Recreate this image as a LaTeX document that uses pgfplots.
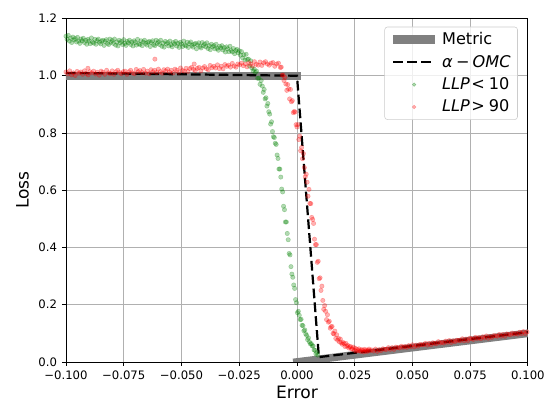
\documentclass[border=0pt]{standalone}
\usepackage{fontspec}
\setmainfont{DejaVu Sans}
\usepackage{pgfplots}
\pgfplotsset{compat=1.18}
\definecolor{mgreen}{HTML}{008000}
\definecolor{mred}{HTML}{FF0000}
\definecolor{mgray}{HTML}{808080}
\definecolor{gridgray}{HTML}{B0B0B0}
\definecolor{legframe}{HTML}{CCCCCC}

\begin{document}
\begin{tikzpicture}
\path[use as bounding box] (-47.5pt,-29.5pt) rectangle (345.6pt,260.6pt);
\begin{axis}[
  at={(0pt,0pt)}, anchor=south west,
  width=332.6pt, height=247.3pt, scale only axis,
  xmin=-0.1, xmax=0.1, ymin=0, ymax=1.2,
  xtick={-0.1,-0.075,-0.05,-0.025,0,0.025,0.05,0.075,0.1},
  xticklabels={−0.100,−0.075,−0.050,−0.025,0.000,0.025,0.050,0.075,0.100},
  ytick={0,0.2,0.4,0.6,0.8,1.0,1.2},
  yticklabels={0.0,0.2,0.4,0.6,0.8,1.0,1.2},
  tick align=outside, tick pos=left, major tick length=2.9pt,
  every tick/.style={black, line width=0.66pt},
  axis line style={black, line width=0.66pt},
  grid=major, major grid style={gridgray, line width=0.66pt},
  tick label style={font=\fontsize{8.4}{10}\selectfont},
  label style={font=\fontsize{12.3}{14}\selectfont},
  xlabel={Error}, ylabel={Loss},
  xlabel style={yshift=2pt},
  legend style={at={(0.978,0.976)}, anchor=north east, draw=legframe,
    rounded corners=2pt, fill=white, fill opacity=0.8, text opacity=1,
    font=\fontsize{11.6}{13.9}\selectfont, inner xsep=3pt, inner ysep=2pt, row sep=2pt},
  legend cell align=left,
]
\addlegendimage{legend image code/.code={\draw[mgray, line width=6.5pt] (0cm,0cm) -- (1.05cm,0cm);}}
\addlegendentry{Metric}
\addlegendimage{legend image code/.code={\draw[black, line width=1.6pt, dash pattern=on 7pt off 3pt] (0cm,0cm) -- (1.05cm,0cm);}}
\addlegendentry{\textit{α}\hspace{0.2em}−\hspace{0.2em}\textit{OMC}}

% LLP < 10
\addplot[only marks, mark=*, mark size=1.6pt, mgreen,
  mark options={fill=mgreen, draw=mgreen, fill opacity=0.3, draw opacity=0.3, line width=0.3pt},
  legend image code/.code={\fill[mgreen, opacity=0.3] (0.525cm,0cm) circle (1.3pt);}]
coordinates {
(-0.1000,1.138) (-0.0995,1.127) (-0.0990,1.141) (-0.0985,1.121) (-0.0980,1.131) (-0.0975,1.116)
(-0.0970,1.135) (-0.0965,1.125) (-0.0960,1.130) (-0.0955,1.118) (-0.0950,1.134) (-0.0945,1.121)
(-0.0940,1.113) (-0.0935,1.128) (-0.0930,1.122) (-0.0925,1.131) (-0.0920,1.116) (-0.0915,1.124)
(-0.0910,1.110) (-0.0905,1.127) (-0.0900,1.121) (-0.0895,1.112) (-0.0890,1.132) (-0.0885,1.117)
(-0.0880,1.114) (-0.0875,1.127) (-0.0870,1.110) (-0.0865,1.123) (-0.0860,1.128) (-0.0855,1.117)
(-0.0850,1.111) (-0.0845,1.121) (-0.0840,1.124) (-0.0835,1.106) (-0.0830,1.120) (-0.0825,1.126)
(-0.0820,1.113) (-0.0815,1.109) (-0.0810,1.128) (-0.0805,1.117) (-0.0800,1.123) (-0.0795,1.113)
(-0.0790,1.128) (-0.0785,1.107) (-0.0780,1.118) (-0.0775,1.104) (-0.0770,1.124) (-0.0765,1.115)
(-0.0760,1.120) (-0.0755,1.109) (-0.0750,1.126) (-0.0745,1.113) (-0.0740,1.106) (-0.0735,1.120)
(-0.0730,1.115) (-0.0725,1.124) (-0.0720,1.109) (-0.0715,1.118) (-0.0710,1.104) (-0.0705,1.122)
(-0.0700,1.116) (-0.0695,1.107) (-0.0690,1.127) (-0.0685,1.112) (-0.0680,1.109) (-0.0675,1.122)
(-0.0670,1.105) (-0.0665,1.118) (-0.0660,1.124) (-0.0655,1.113) (-0.0650,1.107) (-0.0645,1.117)
(-0.0640,1.120) (-0.0635,1.102) (-0.0630,1.116) (-0.0625,1.122) (-0.0620,1.109) (-0.0615,1.105)
(-0.0610,1.124) (-0.0605,1.113) (-0.0600,1.119) (-0.0595,1.109) (-0.0590,1.124) (-0.0585,1.103)
(-0.0580,1.114) (-0.0575,1.100) (-0.0570,1.120) (-0.0565,1.111) (-0.0560,1.116) (-0.0555,1.104)
(-0.0550,1.121) (-0.0545,1.108) (-0.0540,1.101) (-0.0535,1.116) (-0.0530,1.111) (-0.0525,1.120)
(-0.0520,1.104) (-0.0515,1.113) (-0.0510,1.099) (-0.0505,1.117) (-0.0500,1.111) (-0.0495,1.102)
(-0.0490,1.121) (-0.0485,1.107) (-0.0480,1.104) (-0.0475,1.117) (-0.0470,1.099) (-0.0465,1.112)
(-0.0460,1.118) (-0.0455,1.106) (-0.0450,1.100) (-0.0445,1.110) (-0.0440,1.113) (-0.0435,1.094)
(-0.0430,1.108) (-0.0425,1.115) (-0.0420,1.102) (-0.0415,1.097) (-0.0410,1.116) (-0.0405,1.105)
(-0.0400,1.111) (-0.0395,1.101) (-0.0390,1.115) (-0.0385,1.095) (-0.0380,1.105) (-0.0375,1.091)
(-0.0370,1.110) (-0.0365,1.101) (-0.0360,1.105) (-0.0355,1.094) (-0.0350,1.110) (-0.0345,1.096)
(-0.0340,1.089) (-0.0335,1.103) (-0.0330,1.097) (-0.0325,1.105) (-0.0320,1.090) (-0.0315,1.098)
(-0.0310,1.083) (-0.0305,1.101) (-0.0300,1.094) (-0.0295,1.084) (-0.0290,1.103) (-0.0285,1.088)
(-0.0280,1.083) (-0.0275,1.095) (-0.0270,1.077) (-0.0265,1.088) (-0.0260,1.092) (-0.0255,1.080)
(-0.0250,1.087) (-0.0245,1.072) (-0.0240,1.084) (-0.0235,1.062) (-0.0230,1.073) (-0.0225,1.055)
(-0.0220,1.075) (-0.0215,1.057) (-0.0210,1.058) (-0.0205,1.034) (-0.0200,1.052) (-0.0195,1.027)
(-0.0190,1.017) (-0.0185,1.023) (-0.0180,1.012) (-0.0175,1.016) (-0.0170,0.991) (-0.0165,0.992)
(-0.0160,0.970) (-0.0155,0.983)
(-0.0150,0.964) (-0.0146,0.942) (-0.0142,0.952) (-0.0138,0.919) (-0.0134,0.923) (-0.0130,0.894)
(-0.0126,0.903) (-0.0122,0.874) (-0.0118,0.866) (-0.0114,0.831) (-0.0110,0.839) (-0.0106,0.805)
(-0.0102,0.787) (-0.0098,0.784) (-0.0094,0.764) (-0.0090,0.760) (-0.0086,0.723) (-0.0082,0.711)
(-0.0078,0.674) (-0.0074,0.674) (-0.0070,0.646) (-0.0066,0.604) (-0.0062,0.594) (-0.0058,0.544)
(-0.0054,0.532) (-0.0050,0.489) (-0.0046,0.489) (-0.0042,0.449) (-0.0038,0.427) (-0.0034,0.379)
(-0.0030,0.374) (-0.0026,0.333) (-0.0022,0.307) (-0.0018,0.296) (-0.0014,0.269) (-0.0010,0.257)
(-0.0006,0.218) (-0.0002,0.207) (0.0002,0.172) (0.0006,0.177) (0.0010,0.163) (0.0014,0.148)
(0.0018,0.149) (0.0022,0.128) (0.0026,0.127) (0.0030,0.109) (0.0034,0.112) (0.0038,0.098)
(0.0042,0.093) (0.0046,0.078) (0.0050,0.084) (0.0054,0.070) (0.0058,0.063) (0.0062,0.064)
(0.0066,0.056) (0.0070,0.056) (0.0074,0.042) (0.0078,0.041) (0.0082,0.028) (0.0086,0.033)
(0.0090,0.024)
};
\addlegendentry{\textit{LLP}\hspace{0.1em}<\hspace{0.25em}10}

% LLP > 90
\addplot[only marks, mark=*, mark size=1.6pt, mred,
  mark options={fill=mred, draw=mred, fill opacity=0.3, draw opacity=0.3, line width=0.3pt},
  legend image code/.code={\fill[mred, opacity=0.3] (0.525cm,0cm) circle (1.3pt);}]
coordinates {
(-0.1000,1.013) (-0.0992,1.006) (-0.0984,1.017) (-0.0976,1.003) (-0.0968,1.010) (-0.0960,1.001)
(-0.0952,1.015) (-0.0944,1.009) (-0.0936,1.013) (-0.0928,1.005) (-0.0920,1.017) (-0.0912,1.008)
(-0.0904,1.003) (-0.0896,1.014) (-0.0888,1.010) (-0.0880,1.016) (-0.0872,1.006) (-0.0864,1.012)
(-0.0856,1.002) (-0.0848,1.016) (-0.0840,1.012) (-0.0832,1.005) (-0.0824,1.019) (-0.0816,1.010)
(-0.0808,1.007) (-0.0800,1.017) (-0.0792,1.005) (-0.0784,1.014) (-0.0776,1.019) (-0.0768,1.011)
(-0.0760,1.007) (-0.0752,1.014) (-0.0744,1.016) (-0.0736,1.005) (-0.0728,1.014) (-0.0720,1.019)
(-0.0712,1.010) (-0.0704,1.007) (-0.0696,1.022) (-0.0688,1.014) (-0.0680,1.018) (-0.0672,1.011)
(-0.0664,1.022) (-0.0656,1.009) (-0.0648,1.016) (-0.0640,1.007) (-0.0632,1.021) (-0.0624,1.014)
(-0.0616,1.019) (-0.0608,1.011) (-0.0600,1.023) (-0.0592,1.014) (-0.0584,1.009) (-0.0576,1.021)
(-0.0568,1.017) (-0.0560,1.023) (-0.0552,1.013) (-0.0544,1.019) (-0.0536,1.010) (-0.0528,1.023)
(-0.0520,1.019) (-0.0512,1.012) (-0.0504,1.027) (-0.0496,1.018) (-0.0488,1.016) (-0.0480,1.026)
(-0.0472,1.015) (-0.0464,1.025) (-0.0456,1.029) (-0.0448,1.022) (-0.0440,1.018) (-0.0432,1.026)
(-0.0424,1.029) (-0.0416,1.017) (-0.0408,1.027) (-0.0400,1.032) (-0.0392,1.024) (-0.0384,1.021)
(-0.0376,1.036) (-0.0368,1.028) (-0.0360,1.033) (-0.0352,1.027) (-0.0344,1.038) (-0.0336,1.025)
(-0.0328,1.033) (-0.0320,1.024) (-0.0312,1.039) (-0.0304,1.033) (-0.0296,1.037) (-0.0288,1.030)
(-0.0280,1.043) (-0.0272,1.034) (-0.0264,1.030) (-0.0256,1.041) (-0.0248,1.038) (-0.0240,1.044)
(-0.0232,1.035) (-0.0224,1.041) (-0.0216,1.031) (-0.0208,1.045) (-0.0200,1.041) (-0.0192,1.034)
(-0.0184,1.049) (-0.0176,1.040) (-0.0168,1.037) (-0.0160,1.048) (-0.0152,1.036) (-0.0144,1.045)
(-0.0136,1.049) (-0.0128,1.041) (-0.0120,1.037) (-0.0112,1.044) (-0.0104,1.046) (-0.0096,1.033)
(-0.0088,1.041) (-0.0080,1.044) (-0.0072,1.029)
(-0.0615,1.058) (-0.0905,1.026) (-0.0445,1.041)
(-0.0068,1.030) (-0.0064,1.002) (-0.0060,1.002) (-0.0056,0.983) (-0.0052,0.994) (-0.0048,0.971)
(-0.0044,0.949) (-0.0040,0.969) (-0.0036,0.954) (-0.0032,0.919) (-0.0028,0.952) (-0.0024,0.909)
(-0.0020,0.913) (-0.0016,0.871) (-0.0012,0.875) (-0.0008,0.873) (-0.0004,0.829) (0.0000,0.821)
(0.0004,0.829) (0.0008,0.777) (0.0012,0.789) (0.0016,0.738) (0.0020,0.749) (0.0024,0.710)
(0.0028,0.728) (0.0032,0.679) (0.0036,0.647) (0.0040,0.656) (0.0044,0.628) (0.0048,0.579)
(0.0052,0.603) (0.0056,0.554) (0.0060,0.553) (0.0064,0.505) (0.0068,0.498) (0.0072,0.484)
(0.0076,0.429) (0.0080,0.410) (0.0084,0.410) (0.0088,0.348) (0.0092,0.352) (0.0096,0.291)
(0.0100,0.294) (0.0104,0.250) (0.0108,0.265) (0.0112,0.215) (0.0116,0.184) (0.0120,0.197)
(0.0124,0.177) (0.0128,0.148) (0.0132,0.165) (0.0136,0.139) (0.0140,0.142) (0.0144,0.118)
(0.0148,0.123) (0.0152,0.124) (0.0156,0.100) (0.0160,0.098) (0.0164,0.108) (0.0168,0.082)
(0.0172,0.095) (0.0176,0.076) (0.0180,0.082) (0.0184,0.070) (0.0188,0.080) (0.0192,0.067)
(0.0196,0.062) (0.0200,0.068) (0.0204,0.064) (0.0208,0.054) (0.0212,0.065) (0.0216,0.055)
(0.0220,0.058) (0.0224,0.049) (0.0228,0.053) (0.0232,0.054) (0.0236,0.045) (0.0240,0.046)
(0.0244,0.052) (0.0248,0.041) (0.0252,0.048) (0.0256,0.038) (0.0260,0.044) (0.0264,0.039)
(0.0268,0.046) (0.0272,0.040) (0.0276,0.037) (0.0280,0.043) (0.0284,0.041) (0.0288,0.035)
(0.0292,0.044) (0.0296,0.038) (0.0300,0.042) (0.0304,0.037) (0.0308,0.041) (0.0312,0.045)
(0.0316,0.039)
(0.0324,0.042) (0.0332,0.038) (0.0340,0.045) (0.0348,0.037) (0.0356,0.043) (0.0364,0.040)
(0.0372,0.046) (0.0380,0.044) (0.0388,0.044) (0.0396,0.050) (0.0404,0.044) (0.0412,0.050)
(0.0420,0.044) (0.0428,0.052) (0.0436,0.050) (0.0444,0.049) (0.0452,0.055) (0.0460,0.051)
(0.0468,0.054) (0.0476,0.051) (0.0484,0.057) (0.0492,0.053) (0.0500,0.060) (0.0508,0.053)
(0.0516,0.059) (0.0524,0.055) (0.0532,0.061) (0.0540,0.060) (0.0548,0.060) (0.0556,0.065)
(0.0564,0.059) (0.0572,0.065) (0.0580,0.060) (0.0588,0.067) (0.0596,0.065) (0.0604,0.064)
(0.0612,0.071) (0.0620,0.066) (0.0628,0.069) (0.0636,0.066) (0.0644,0.073) (0.0652,0.069)
(0.0660,0.075) (0.0668,0.068) (0.0676,0.074) (0.0684,0.071) (0.0692,0.076) (0.0700,0.075)
(0.0708,0.075) (0.0716,0.081) (0.0724,0.074) (0.0732,0.080) (0.0740,0.075) (0.0748,0.083)
(0.0756,0.081) (0.0764,0.079) (0.0772,0.086) (0.0780,0.082) (0.0788,0.085) (0.0796,0.081)
(0.0804,0.088) (0.0812,0.084) (0.0820,0.091) (0.0828,0.083) (0.0836,0.089) (0.0844,0.086)
(0.0852,0.092) (0.0860,0.091) (0.0868,0.090) (0.0876,0.096) (0.0884,0.090) (0.0892,0.096)
(0.0900,0.090) (0.0908,0.098) (0.0916,0.096) (0.0924,0.095) (0.0932,0.101) (0.0940,0.097)
(0.0948,0.100) (0.0956,0.097) (0.0964,0.104) (0.0972,0.099) (0.0980,0.106) (0.0988,0.099)
(0.0996,0.105)
};
\addlegendentry{\textit{LLP}\hspace{0.1em}>\hspace{0.25em}90}

% Metric
\addplot[forget plot, mgray, line width=5.5pt, line cap=rect] coordinates {(-0.1,1.0) (0.0,1.0)};
\addplot[forget plot, mgray, line width=5.5pt, line cap=rect] coordinates {(0.0,0.0) (0.1,0.1)};
% alpha-OMC
\addplot[forget plot, black, line width=1.6pt, dash pattern=on 7pt off 3pt]
  coordinates {(-0.1,1.01) (0.0,1.0) (0.0095,0.017) (0.1,0.104)};
\end{axis}
\end{tikzpicture}
\end{document}
